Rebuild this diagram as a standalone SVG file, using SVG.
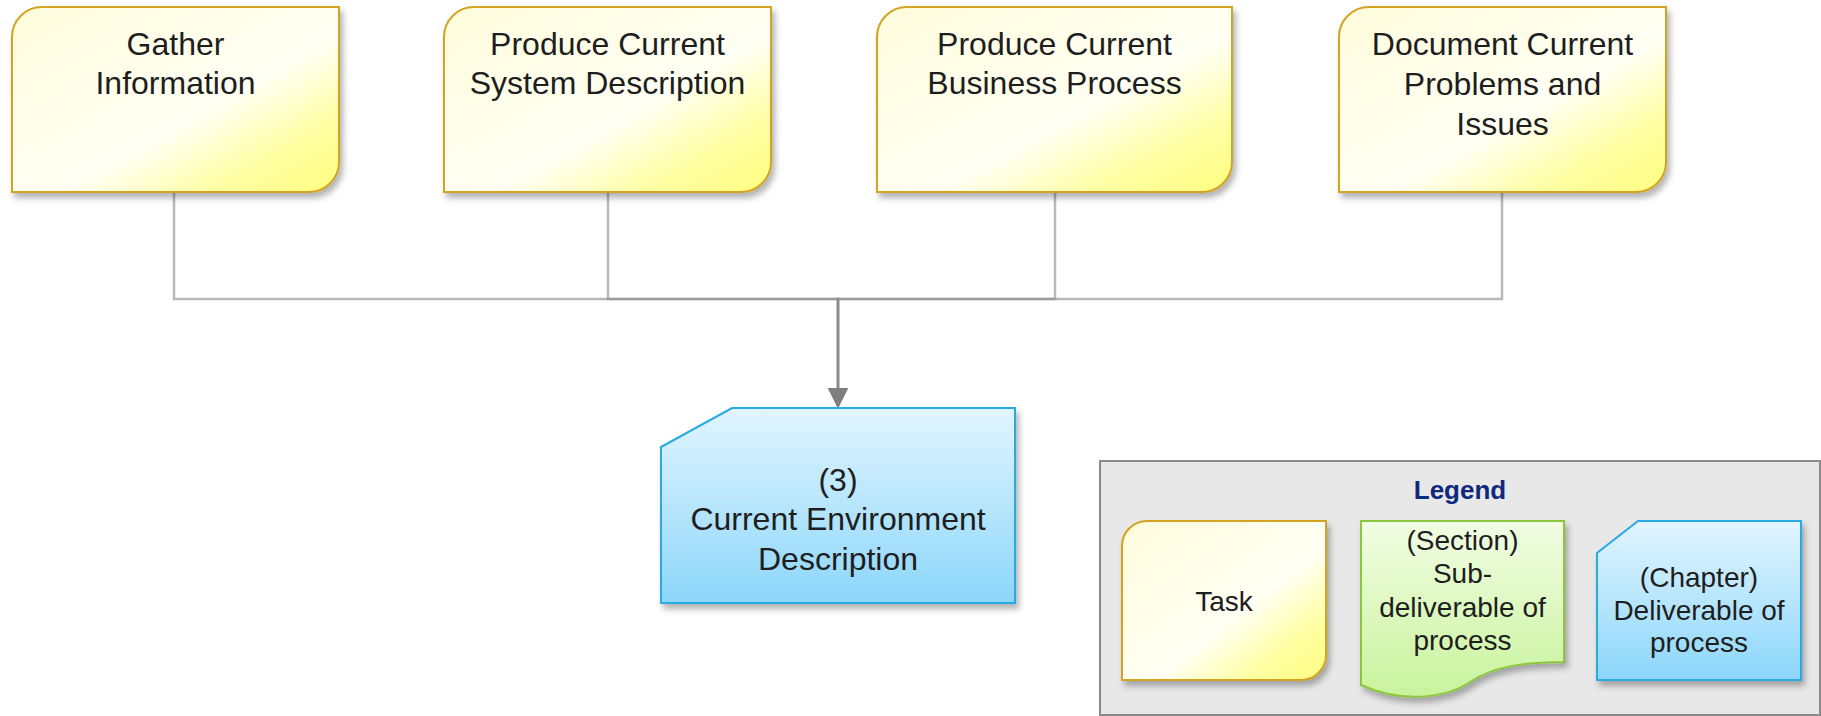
<svg xmlns="http://www.w3.org/2000/svg" width="1821" height="716" viewBox="0 0 1821 716">
<style>
  .t { font-family: "Liberation Sans", Arial, sans-serif; font-size: 32px; fill: #1e1e1e; text-anchor: middle; }
  .lt { font-family: "Liberation Sans", Arial, sans-serif; font-size: 28px; fill: #1e1e1e; text-anchor: middle; }
  .title { font-family: "Liberation Sans", Arial, sans-serif; font-size: 26px; font-weight: bold; fill: #0e2a7c; text-anchor: middle; }
  .task { fill: url(#yellow); stroke: #d3a321; stroke-width: 2; filter: url(#shadow); }
  .deliv { fill: url(#blue); stroke: #2aaae3; stroke-width: 2; filter: url(#shadow); }
  .sub { fill: url(#green); stroke: #8cc63e; stroke-width: 2; filter: url(#shadow); }
  .conn { fill: none; stroke: #888888; stroke-opacity: 0.6; stroke-width: 2.5; }
</style>
<defs>
  <linearGradient id="yellow" x1="0" y1="0" x2="1" y2="1">
    <stop offset="0" stop-color="#fffcdc"/>
    <stop offset="0.58" stop-color="#fffff4"/>
    <stop offset="0.8" stop-color="#ffffa4"/>
    <stop offset="1" stop-color="#ffff80"/>
  </linearGradient>
  <linearGradient id="blue" x1="0" y1="0" x2="0" y2="1">
    <stop offset="0" stop-color="#e2f5fe"/>
    <stop offset="1" stop-color="#8cd6fa"/>
  </linearGradient>
  <linearGradient id="green" x1="0" y1="0" x2="0" y2="1">
    <stop offset="0" stop-color="#f1fde4"/>
    <stop offset="1" stop-color="#c9f39c"/>
  </linearGradient>
  <filter id="shadow" x="-10%" y="-10%" width="125%" height="130%">
    <feDropShadow dx="3" dy="5" stdDeviation="3" flood-color="#000" flood-opacity="0.3"/>
  </filter>
  <marker id="arrow" viewBox="0 0 20 20" refX="0" refY="10" markerWidth="20" markerHeight="20" markerUnits="userSpaceOnUse" orient="auto">
    <path d="M0,0 L20,10 L0,20 Z" fill="#7f7f7f"/>
  </marker>
</defs>
<rect x="0" y="0" width="1821" height="716" fill="#ffffff"/>

<g id="connectors">
  <path class="conn" d="M174,192 V299 H838 V388" marker-end="url(#arrow)"/>
  <path class="conn" d="M608,192 V299 H838 V388" marker-end="url(#arrow)"/>
  <path class="conn" d="M1055,192 V299 H838 V388" marker-end="url(#arrow)"/>
  <path class="conn" d="M1502,192 V299 H838 V388" marker-end="url(#arrow)"/>
</g>

<g id="gather-information">
  <path class="task" d="M12,37 A30,30 0 0 1 42,7 H339 V162 A30,30 0 0 1 309,192 H12 Z"/>
  <text class="t" x="175.5" y="55">Gather</text>
  <text class="t" x="175.5" y="94">Information</text>
</g>
<g id="produce-system-description">
  <path class="task" d="M444,37 A30,30 0 0 1 474,7 H771 V162 A30,30 0 0 1 741,192 H444 Z"/>
  <text class="t" x="607.5" y="55">Produce Current</text>
  <text class="t" x="607.5" y="94">System Description</text>
</g>
<g id="produce-business-process">
  <path class="task" d="M877,37 A30,30 0 0 1 907,7 H1232 V162 A30,30 0 0 1 1202,192 H877 Z"/>
  <text class="t" x="1054.5" y="55">Produce Current</text>
  <text class="t" x="1054.5" y="94">Business Process</text>
</g>
<g id="document-problems">
  <path class="task" d="M1339,37 A30,30 0 0 1 1369,7 H1666 V162 A30,30 0 0 1 1636,192 H1339 Z"/>
  <text class="t" x="1502.5" y="55">Document Current</text>
  <text class="t" x="1502.5" y="95">Problems and</text>
  <text class="t" x="1502.5" y="135">Issues</text>
</g>
<g id="current-environment-description">
  <path class="deliv" d="M661,447 L732,408 H1015 V603 H661 Z"/>
  <text class="t" x="838" y="491">(3)</text>
  <text class="t" x="838" y="530">Current Environment</text>
  <text class="t" x="838" y="570">Description</text>
</g>

<g id="legend">
  <rect x="1100" y="461" width="720" height="254" fill="#e8e8e8" stroke="#8a8a8a" stroke-width="2"/>
  <text class="title" x="1460" y="499">Legend</text>
  <g id="legend-task">
    <path class="task" d="M1122,546 A25,25 0 0 1 1147,521 H1326 V655 A25,25 0 0 1 1301,680 H1122 Z"/>
    <text class="lt" x="1224" y="611">Task</text>
  </g>
  <g id="legend-section">
    <path class="sub" d="M1361,521 H1564 V662 C1530,662 1495,665 1470,682 C1445,699 1400,703 1361,685 Z"/>
    <text class="lt" x="1462.5" y="550">(Section)</text>
    <text class="lt" x="1462.5" y="583">Sub-</text>
    <text class="lt" x="1462.5" y="617">deliverable of</text>
    <text class="lt" x="1462.5" y="650">process</text>
  </g>
  <g id="legend-chapter">
    <path class="deliv" d="M1597,553 L1638,521 H1801 V680 H1597 Z"/>
    <text class="lt" x="1699" y="587">(Chapter)</text>
    <text class="lt" x="1699" y="620">Deliverable of</text>
    <text class="lt" x="1699" y="652">process</text>
  </g>
</g>
</svg>
